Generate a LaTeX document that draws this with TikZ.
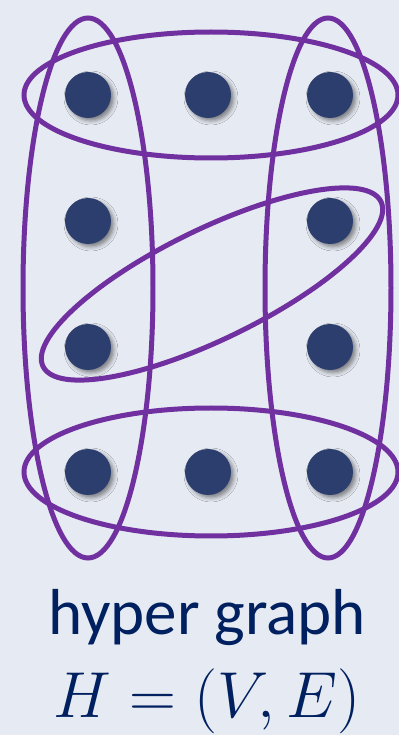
\RequirePackage{fix-cm}
\documentclass[tikz,border=0pt]{standalone}
\usepackage{fontspec}
\setmainfont{Carlito}
\usetikzlibrary{shadows.blur}
\definecolor{bgblue}{RGB}{230,234,242}
\definecolor{mpurple}{RGB}{112,48,160}
\definecolor{mnavy}{RGB}{44,62,110}
\definecolor{mtext}{RGB}{0,32,96}
\tikzset{vert/.style = {fill=mnavy, circle, inner sep=0, minimum size=0.92cm,
                        blur shadow={shadow xshift=0.06cm, shadow yshift=-0.06cm,
                                     shadow blur radius=0.08cm, shadow opacity=45}}}
\tikzset{hedge/.style = {draw=mpurple, line width=0.1cm}}
\begin{document}
\begin{tikzpicture}[x=0.02cm, y=0.02cm]
      \fill[bgblue] (0,0) rectangle (399,735);
      \useasboundingbox (0,0) rectangle (399,735);
      % hyperedges
      \draw[hedge] (88,447) ellipse [x radius=65, y radius=270];
      \draw[hedge] (328,447) ellipse [x radius=63, y radius=270];
      \draw[hedge] (211,640) ellipse [x radius=187, y radius=63];
      \draw[hedge] (211,263) ellipse [x radius=187, y radius=64];
      \draw[hedge, rotate around={26:(212,451)}] (212,451)
        ellipse [x radius=188, y radius=55];
      % vertices
      \foreach \c/\x in {1/88, 2/208, 3/330} {
        \node[vert] (v1\c) at (\x,640) {};
        \node[vert] (v4\c) at (\x,263) {};
      }
      \foreach \c/\x in {1/88, 3/330} {
        \node[vert] (v2\c) at (\x,514) {};
        \node[vert] (v3\c) at (\x,388) {};
      }
      \node[anchor=base, text=mtext, font=\fontsize{37}{42}\selectfont]
        (title) at (207,100) {hyper graph};
      \node[anchor=base, text=mtext, font=\fontsize{37}{42}\selectfont]
        (formula) at (207,17) {$H=(V,E)$};
\end{tikzpicture}
\end{document}
